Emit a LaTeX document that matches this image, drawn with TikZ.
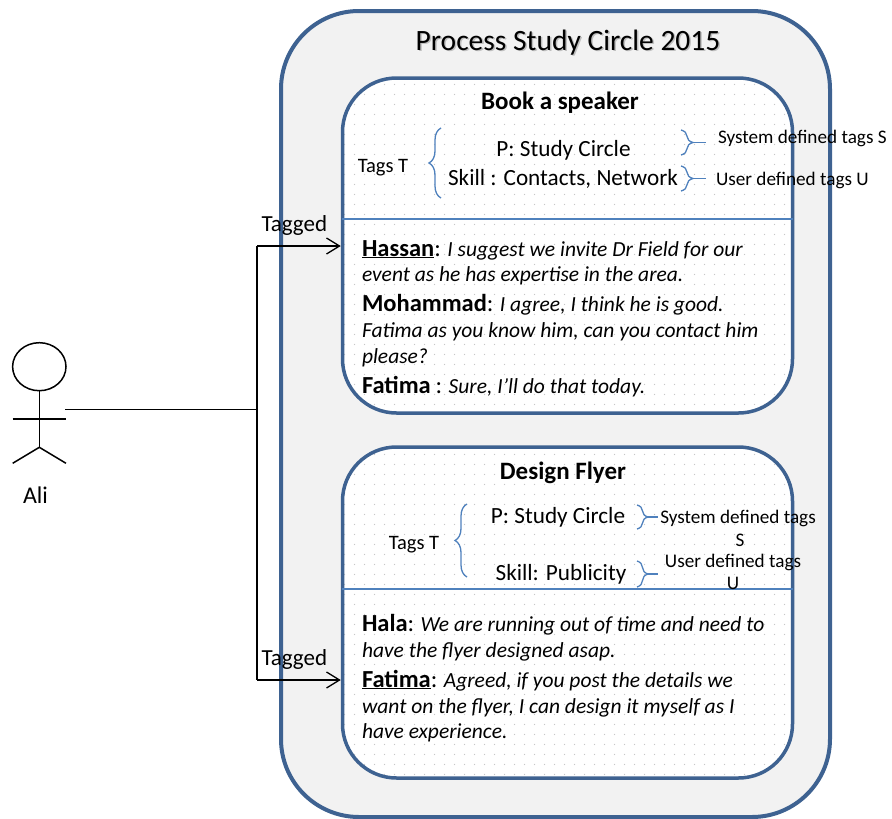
\documentclass[tikz,border=0pt]{standalone}
\usepackage{fontspec}
\setmainfont{Carlito}
\usetikzlibrary{arrows.meta,decorations.pathreplacing,patterns.meta}
\definecolor{frame}{RGB}{62,98,145}
\definecolor{accent}{RGB}{79,129,189}
\definecolor{panel}{RGB}{242,242,242}
\tikzdeclarepattern{
  name=softdots,
  type=uncolored,
  bounding box={(0,0) and (10pt,10pt)},
  tile size={(10pt,10pt)},
  code={\pgfpathcircle{\pgfpoint{5pt}{5pt}}{0.75pt}\pgfusepath{fill}}
}
\newcommand{\fs}[1]{\fontsize{#1}{#1}\selectfont}
\newcommand{\spk}[1]{{\bfseries\fs{24.5}#1}}
\begin{document}
\begin{tikzpicture}[x=1pt,y=-1pt,
  txt/.style={inner sep=0pt,outer sep=0pt},
  outerbox/.style={draw=frame,line width=4pt,fill=panel,rounded corners=78pt,
    minimum width=549pt,minimum height=806pt,inner sep=0pt},
  innerbox/.style={draw=frame,line width=3.5pt,rounded corners=54pt,
    preaction={fill=white},pattern=softdots,pattern color=black!22,
    minimum width=450pt,inner sep=0pt},
  divider/.style={draw=accent,line width=1.3pt},
  bracestyle/.style={draw=accent,line width=1.3pt,decorate,
    decoration={brace,amplitude=#1}},
  conn/.style={draw=black,line width=1.3pt},
  tagarrow/.style={conn,-{Straight Barb[length=13pt,width=16pt,line width=1.3pt]}},
  figure/.style={draw=black,line width=1.5pt},
  ttl/.style={txt,font=\fs{29.5}},
  hdr/.style={txt,font=\bfseries\fs{25}},
  tagtxt/.style={txt,font=\fs{23.2}},
  tagT/.style={txt,font=\fs{20.5}},
  note/.style={txt,font=\fs{19.2}},
  say/.style={txt,anchor=base west,font=\fs{21.5}},
  lbl/.style={txt,font=\fs{23}}
]
\useasboundingbox (0,0) rectangle (892,819);

% outer process box
\node[outerbox] (proc) at (555.5,414) {};
\node[ttl,anchor=base,text=black!25] (ttlshadow) at (569.5,51.5) {Process Study Circle 2015};
\node[ttl,anchor=base] (title) at (568,50) {Process Study Circle 2015};

% inner boxes
\node[innerbox,minimum height=335pt] (box1) at (567.5,245.5) {};
\node[innerbox,minimum height=331pt] (box2) at (567.5,612.5) {};

\coordinate (d1) at (0,219);
\coordinate (d2) at (0,589);
\draw[divider] ([xshift=1pt]box1.west |- d1) -- ([xshift=-1pt]box1.east |- d1);
\draw[divider] ([xshift=1pt]box2.west |- d2) -- ([xshift=-1pt]box2.east |- d2);

% ---------- box 1 header ----------
\node[hdr,anchor=base] (bk) at (560,109) {Book a speaker};
\node[tagT,anchor=base] (tags1) at (383,172) {Tags T};
\node[tagtxt,anchor=base] (p1) at (563.5,156) {P: Study Circle};
\node[tagtxt,anchor=base] (s1) at (563,185) {Skill : Contacts, Network};
\node[note,anchor=base west] (sys1) at (718,143) {System defined tags S};
\node[note,anchor=base west] (usr1) at (716,185) {User defined tags U};

\coordinate (lb1a) at (441,198);
\coordinate (lb1b) at (441,128);
\draw[bracestyle=12pt] (lb1a) -- (lb1b);
\coordinate (rb1a) at (681,130);
\coordinate (rb1b) at (681,155);
\coordinate (rb1t) at (694,142.5);
\coordinate (rb1e) at (706,142.5);
\draw[bracestyle=12pt] (rb1a) -- (rb1b);
\draw[divider] (rb1t) -- (rb1e);
\coordinate (rb2a) at (681,166);
\coordinate (rb2b) at (681,191);
\coordinate (rb2t) at (694,178.5);
\coordinate (rb2e) at (706,178.5);
\draw[bracestyle=12pt] (rb2a) -- (rb2b);
\draw[divider] (rb2t) -- (rb2e);

% ---------- box 1 dialogue ----------
\node[say] (h1) at (362,256) {\spk{\underline{Hassan}}{\fs{24.5}:} \itshape I suggest we invite Dr Field for our};
\node[say] (h2) at (362,281) {\itshape event as he has expertise in the area.};
\node[say] (m1) at (362,311) {\spk{Mohammad}{\fs{24.5}:} \itshape I agree, I think he is good.};
\node[say] (m2) at (362,337) {\itshape Fatima as you know him, can you contact him};
\node[say] (m3) at (362,363) {\itshape please?};
\node[say] (f1) at (362,393) {\spk{Fatima} {\fs{24.5}:} \itshape Sure, I’ll do that today.};

% ---------- box 2 header ----------
\node[hdr,anchor=base] (df) at (563,479) {Design Flyer};
\node[tagT,anchor=base] (tags2) at (414,549) {Tags T};
\node[tagtxt,anchor=base] (p2) at (558,523) {P: Study Circle};
\node[tagtxt,anchor=base] (s2) at (561,580) {Skill: Publicity};
\node[note,anchor=base] (sys2a) at (738,523) {System defined tags};
\node[note,anchor=base] (sys2b) at (740,546) {S};
\node[note,anchor=base] (usr2a) at (733,567) {User defined tags};
\node[note,anchor=base] (usr2b) at (733,589) {U};

\coordinate (lb2a) at (467,577);
\coordinate (lb2b) at (467,504);
\draw[bracestyle=12pt] (lb2a) -- (lb2b);
\coordinate (rb3a) at (637,505);
\coordinate (rb3b) at (637,529);
\coordinate (rb3t) at (648,517);
\coordinate (rb3e) at (658,517);
\draw[bracestyle=11pt] (rb3a) -- (rb3b);
\draw[divider] (rb3t) -- (rb3e);
\coordinate (rb4a) at (637,561);
\coordinate (rb4b) at (637,587);
\coordinate (rb4t) at (648,574);
\coordinate (rb4e) at (658,574);
\draw[bracestyle=11pt] (rb4a) -- (rb4b);
\draw[divider] (rb4t) -- (rb4e);

% ---------- box 2 dialogue ----------
\node[say] (ha1) at (362,631) {\spk{Hala}{\fs{24.5}:} \itshape We are running out of time and need to};
\node[say] (ha2) at (362,657) {\itshape have the flyer designed asap.};
\node[say] (fa1) at (362,687) {\spk{\underline{Fatima}}{\fs{24.5}:} \itshape Agreed, if you post the details we};
\node[say] (fa2) at (362,713) {\itshape want on the flyer, I can design it myself as I};
\node[say] (fa3) at (362,738) {\itshape have experience.};

% ---------- actor ----------
\draw[figure] (39.3,366.7) ellipse (26.7 and 24);
\coordinate (neck) at (39.3,390.7);
\coordinate (hip) at (39.3,447.3);
\coordinate (armL) at (12.7,419);
\coordinate (armR) at (66,419);
\coordinate (footL) at (12.7,463.3);
\coordinate (footR) at (66,463.3);
\draw[figure] (neck) -- (hip);
\draw[figure] (armL) -- (armR);
\draw[figure] (footL) -- (hip) -- (footR);
\node[txt,font=\fs{24},anchor=base] (ali) at (35.5,503) {Ali};

% ---------- connectors ----------
\coordinate (hand) at (65.3,409.3);
\coordinate (junc) at (257,409.3);
\coordinate (jtop) at (257,246);
\coordinate (jbot) at (257,680);
\coordinate (jmid) at (257,508);
\coordinate (in1) at (box1.west |- jtop);
\coordinate (in2) at (box2.west |- jbot);
\draw[conn] (hand) -- (junc);
\draw[conn] (jtop) -- (jbot);
\draw[draw=black,line width=2.3pt] (junc) -- (jmid);
\draw[tagarrow] (jtop) -- (in1);
\draw[tagarrow] (jbot) -- (in2);
\node[lbl,anchor=base west] (tag1) at (261.5,231.5) {Tagged};
\node[lbl,anchor=base west] (tag2) at (261.5,665.5) {Tagged};
\end{tikzpicture}
\end{document}
